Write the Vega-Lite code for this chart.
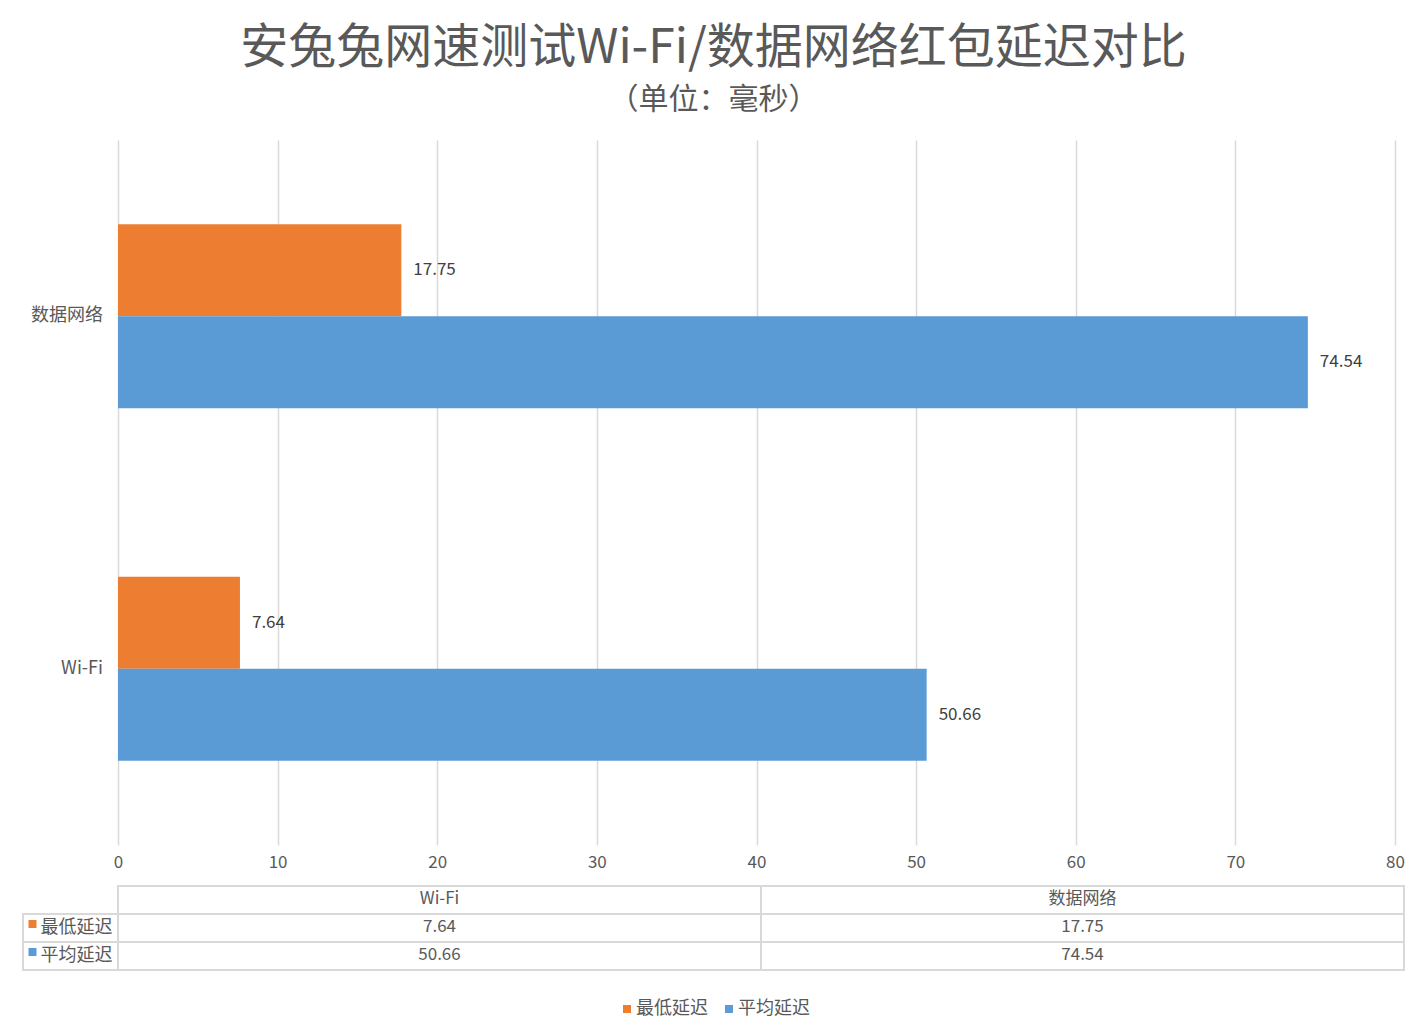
{
  "$schema": "https://vega.github.io/schema/vega-lite/v6.json",
  "background": "white",
  "padding": {"top": 25, "left": 22, "right": 24, "bottom": 14},
  "title": {
    "text": "安兔兔网速测试Wi-Fi/数据网络红包延迟对比",
    "subtitle": "（单位：毫秒）",
    "fontSize": 48,
    "fontWeight": "normal",
    "color": "#595959",
    "subtitleFontSize": 30,
    "subtitleColor": "#595959",
    "subtitlePadding": 12,
    "anchor": "middle",
    "offset": 25
  },
  "datasets": {
    "latency": [
      {"network": "Wi-Fi", "metric": "最低延迟", "ms": 7.64},
      {"network": "Wi-Fi", "metric": "平均延迟", "ms": 50.66},
      {"network": "数据网络", "metric": "最低延迟", "ms": 17.75},
      {"network": "数据网络", "metric": "平均延迟", "ms": 74.54}
    ]
  },
  "data": {"name": "latency"},
  "columns": 2,
  "bounds": "flush",
  "spacing": {"row": 41, "column": 0},
  "resolve": {"scale": {"color": "shared"}, "legend": {"color": "shared"}},
  "concat": [
    {
      "width": 95,
      "height": 705,
      "transform": [{"aggregate": [], "groupby": ["network"]}],
      "mark": {"type": "text", "align": "right", "baseline": "middle", "dx": -15, "fontSize": 18, "color": "#595959"},
      "encoding": {
        "x": {"value": "width"},
        "y": {
          "field": "network",
          "type": "nominal",
          "sort": ["数据网络", "Wi-Fi"],
          "scale": {"paddingInner": 0.478, "paddingOuter": 0.239},
          "axis": null
        },
        "text": {"field": "network"}
      }
    },
    {
      "width": 1277,
      "height": 705,
      "encoding": {
        "y": {
          "field": "network",
          "type": "nominal",
          "sort": ["数据网络", "Wi-Fi"],
          "scale": {"paddingInner": 0.478, "paddingOuter": 0.239},
          "axis": null
        },
        "yOffset": {"field": "metric", "type": "nominal", "sort": ["最低延迟", "平均延迟"]},
        "x": {
          "field": "ms",
          "type": "quantitative",
          "scale": {"domain": [0, 80], "nice": false},
          "axis": {
            "values": [0, 10, 20, 30, 40, 50, 60, 70, 80],
            "grid": true,
            "gridColor": "#D9D9D9",
            "gridWidth": 1.5,
            "domain": false,
            "ticks": false,
            "labelFlush": false,
            "labelFontSize": 17,
            "labelColor": "#595959",
            "labelPadding": 9,
            "title": null
          }
        }
      },
      "layer": [
        {
          "mark": {"type": "bar"},
          "encoding": {
            "color": {
              "field": "metric",
              "type": "nominal",
              "scale": {"domain": ["最低延迟", "平均延迟"], "range": ["#ED7D31", "#5B9BD5"]},
              "legend": {
                "orient": "bottom",
                "direction": "horizontal",
                "title": null,
                "labelFontSize": 18,
                "labelColor": "#595959",
                "symbolType": "square",
                "symbolSize": 64,
                "symbolStrokeWidth": 0,
                "symbolOpacity": 1,
                "columnPadding": 12,
                "labelOffset": 0,
                "offset": 29
              }
            }
          }
        },
        {
          "mark": {"type": "text", "align": "left", "baseline": "middle", "dx": 12, "fontSize": 17, "color": "#404040"},
          "encoding": {"text": {"field": "ms"}}
        }
      ]
    },
    {
      "width": 95,
      "height": 84,
      "transform": [{"aggregate": [], "groupby": ["metric"]}],
      "encoding": {
        "y": {
          "field": "metric",
          "type": "nominal",
          "scale": {"domain": ["表头", "最低延迟", "平均延迟"], "paddingInner": 0, "paddingOuter": 0},
          "axis": null
        }
      },
      "layer": [
        {
          "mark": {"type": "rect", "fill": "white", "stroke": "#D9D9D9", "strokeWidth": 2}
        },
        {
          "mark": {"type": "square", "size": 64, "opacity": 1, "xOffset": -38, "yOffset": -4},
          "encoding": {"color": {"field": "metric", "type": "nominal"}}
        },
        {
          "mark": {"type": "text", "baseline": "middle", "dx": 6, "fontSize": 18, "color": "#595959"},
          "encoding": {"text": {"field": "metric"}}
        }
      ]
    },
    {
      "width": 1286,
      "height": 84,
      "encoding": {
        "x": {
          "field": "network",
          "type": "nominal",
          "sort": ["Wi-Fi", "数据网络"],
          "scale": {"paddingInner": 0, "paddingOuter": 0},
          "axis": null
        }
      },
      "layer": [
        {
          "mark": {"type": "rect", "fill": "white", "stroke": "#D9D9D9", "strokeWidth": 2},
          "encoding": {
            "y": {
              "field": "metric",
              "type": "nominal",
              "scale": {"domain": ["表头", "最低延迟", "平均延迟"], "paddingInner": 0, "paddingOuter": 0},
              "axis": null
            }
          }
        },
        {
          "transform": [{"aggregate": [], "groupby": ["network"]}],
          "mark": {"type": "rect", "fill": "white", "stroke": "#D9D9D9", "strokeWidth": 2},
          "encoding": {"y": {"datum": "表头", "type": "nominal"}}
        },
        {
          "transform": [{"aggregate": [], "groupby": ["network"]}],
          "mark": {"type": "text", "baseline": "middle", "fontSize": 17, "color": "#595959", "dy": -1},
          "encoding": {"y": {"datum": "表头", "type": "nominal"}, "text": {"field": "network"}}
        },
        {
          "mark": {"type": "text", "baseline": "middle", "fontSize": 17, "color": "#595959", "dy": -1},
          "encoding": {"y": {"field": "metric", "type": "nominal"}, "text": {"field": "ms"}}
        }
      ]
    }
  ],
  "config": {
    "font": "Noto Sans CJK SC",
    "view": {"stroke": null},
    "legend": {"layout": {"bottom": {"anchor": "middle"}}}
  }
}
